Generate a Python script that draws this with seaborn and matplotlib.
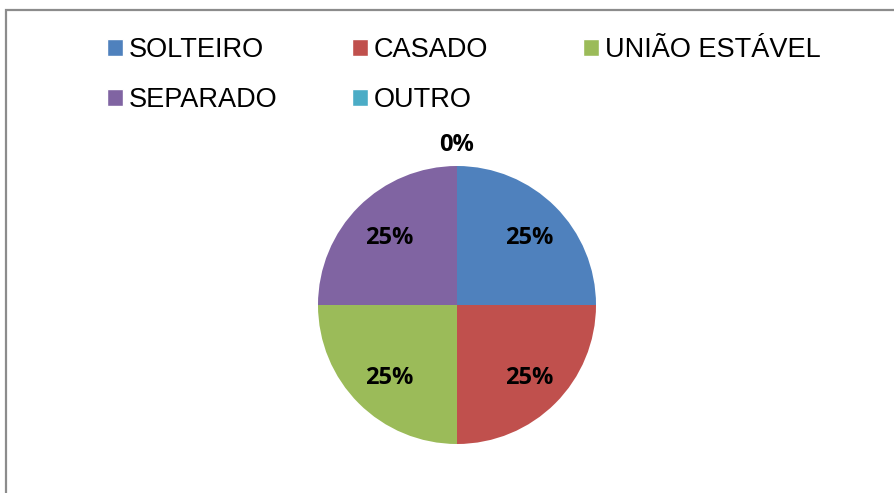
import numpy as np
import seaborn as sns
import matplotlib.pyplot as plt
from matplotlib.patches import Rectangle, Patch

# data
categories = ['SOLTEIRO', 'CASADO', 'UNIÃO ESTÁVEL', 'SEPARADO', 'OUTRO']
values = [1, 1, 1, 1, 0]
colors = ['#4F81BD', '#C0504D', '#9BBB59', '#8064A2', '#4BACC6']

sns.set_theme(style='white')
plt.rcParams['font.family'] = ['Liberation Sans', 'DejaVu Sans']
palette = sns.color_palette(colors)

W, H = 894, 493
fig = plt.figure(figsize=(W / 100, H / 100), dpi=100)
ax = fig.add_axes([0, 0, 1, 1])

# outer chart border (cut off at right and bottom)
ax.add_patch(Rectangle((6, -20), W + 40, H - 10 + 20, fill=False,
                       edgecolor='#8c8c8c', lw=1.6, zorder=0))

cx, cy, r = 457, H - 305, 139
wedges, texts, autotexts = ax.pie(
    values, colors=palette, startangle=90, counterclock=False,
    center=(cx, cy), radius=r, autopct='%1.0f%%', pctdistance=0.71,
    wedgeprops=dict(linewidth=0), frame=True,
    textprops=dict(fontsize=17, fontweight='bold',
                   family=['Open Sans', 'DejaVu Sans'], color='black'))

# zero slice label sits outside the pie, like Excel does
for w, t, v in zip(wedges, autotexts, values):
    ang = np.deg2rad((w.theta1 + w.theta2) / 2)
    if v == 0:
        t.set_position((cx + 1.15 * r * np.cos(ang), cy + 1.15 * r * np.sin(ang)))
    else:
        x, y = t.get_position()
        t.set_position((x + 2, y - 3))

ax.set_xlim(0, W)
ax.set_ylim(0, H)
ax.set_aspect('equal')
ax.axis('off')

# legend: one column per block, as in the original layout
handles = [Patch(facecolor=c, label=l) for c, l in zip(palette, categories)]
columns = [[0, 3], [1, 4], [2]]
col_x = [107, 352, 583]
for idx, x0 in zip(columns, col_x):
    fig.legend([handles[i] for i in idx], [categories[i] for i in idx],
               loc='upper left', bbox_to_anchor=(x0 / W, 1 - 37 / H),
               frameon=False, fontsize=19.5, handlelength=0.6,
               handleheight=0.6, handletextpad=0.2, labelspacing=0.9,
               borderpad=0, borderaxespad=0, labelcolor='black')

fig.savefig('out.png', dpi=100)
